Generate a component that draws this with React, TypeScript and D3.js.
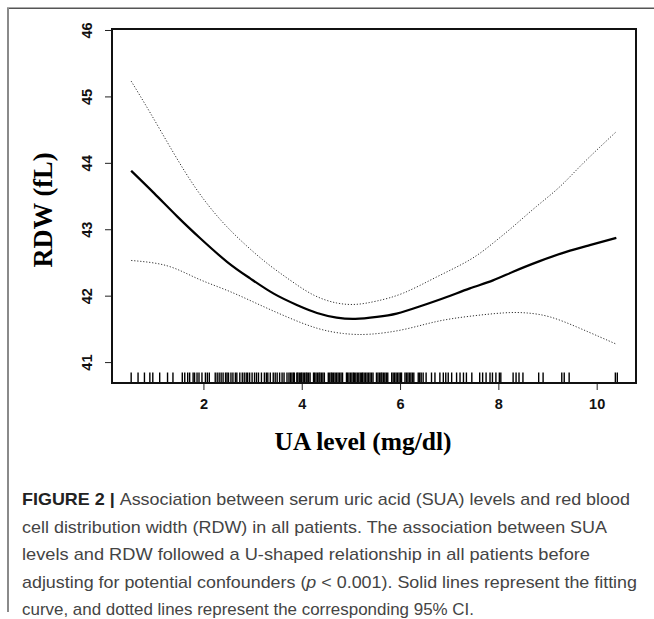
import { useEffect, useRef } from 'react';
import * as d3 from 'd3';

// Axis ticks
const xTicks = [2, 4, 6, 8, 10];
const yTicks = [41, 42, 43, 44, 45, 46];

// Fitted curve (solid)
const fitX = [0.53, 1.0, 1.47, 1.94, 2.48, 2.95, 3.43, 3.9, 4.31, 4.71, 5.09, 5.53, 5.93, 6.41, 6.95, 7.42, 7.89, 8.3, 8.84, 9.38, 9.86, 10.4];
const fitY = [43.88, 43.54, 43.19, 42.86, 42.51, 42.26, 42.03, 41.86, 41.74, 41.67, 41.65, 41.68, 41.73, 41.84, 41.98, 42.11, 42.23, 42.36, 42.52, 42.66, 42.76, 42.87];

// 95% CI upper (dotted)
const upperX = [0.53, 0.92, 1.4, 1.87, 2.35, 2.82, 3.29, 3.77, 4.24, 4.71, 5.12, 5.53, 6.07, 6.74, 7.42, 7.89, 8.3, 8.77, 9.25, 9.72, 10.4];
const upperY = [45.23, 44.75, 44.14, 43.59, 43.14, 42.79, 42.49, 42.23, 42.01, 41.89, 41.87, 41.92, 42.04, 42.28, 42.54, 42.79, 43.04, 43.34, 43.64, 43.99, 44.47];

// 95% CI lower (dotted)
const lowerX = [0.53, 1.26, 1.87, 2.48, 3.09, 3.7, 4.31, 4.85, 5.39, 6.07, 6.74, 7.42, 8.1, 8.57, 9.05, 9.59, 10.06, 10.4];
const lowerY = [42.53, 42.45, 42.26, 42.08, 41.88, 41.68, 41.51, 41.43, 41.42, 41.49, 41.61, 41.69, 41.74, 41.74, 41.68, 41.53, 41.38, 41.27];

// Observed UA values (rug)
const rugX = [
    0.53, 0.67, 0.8, 0.91, 0.97, 1.11, 1.27, 1.38, 1.57, 1.62, 1.68, 1.72, 1.79, 1.82, 1.87, 1.91, 1.97,
    2.04, 2.08, 2.12, 2.24, 2.28, 2.32, 2.36, 2.4, 2.45, 2.48, 2.51, 2.56, 2.6, 2.65, 2.68, 2.74, 2.79,
    2.83, 2.87, 2.9, 2.94, 2.99, 3.04, 3.08, 3.12, 3.18, 3.24, 3.28, 3.31, 3.36, 3.42, 3.46, 3.5, 3.55,
    3.6, 3.64, 3.7, 3.74, 3.77, 3.8, 3.83, 3.85, 3.9, 3.92, 3.95, 3.98, 4.0, 4.03, 4.06, 4.09, 4.11,
    4.14, 4.17, 4.24, 4.26, 4.29, 4.32, 4.35, 4.37, 4.4, 4.43, 4.46, 4.54, 4.57, 4.6, 4.62, 4.65, 4.68,
    4.71, 4.74, 4.77, 4.8, 4.83, 4.91, 4.93, 4.96, 4.99, 5.02, 5.05, 5.07, 5.1, 5.13, 5.16, 5.19, 5.22,
    5.24, 5.27, 5.3, 5.33, 5.36, 5.39, 5.42, 5.45, 5.52, 5.55, 5.58, 5.61, 5.63, 5.66, 5.69, 5.72, 5.75,
    5.83, 5.86, 5.89, 5.92, 5.95, 5.98, 6.01, 6.03, 6.1, 6.13, 6.16, 6.19, 6.22, 6.25, 6.28, 6.37, 6.4,
    6.43, 6.47, 6.53, 6.64, 6.71, 6.81, 6.88, 6.93, 6.98, 7.05, 7.15, 7.22, 7.29, 7.35, 7.46, 7.62, 7.68,
    7.75, 7.83, 7.88, 7.95, 8.02, 8.05, 8.3, 8.36, 8.42, 8.5, 8.82, 8.91, 9.29, 9.34, 9.44, 10.38, 10.42,
];

// Caption lines and the right edge each line reaches
const captionEnds = [630, 607, 590, 637, 474];

export default function App() {
    const svgRef = useRef<SVGSVGElement>(null);

    useEffect(() => {
        const svg = d3.select(svgRef.current);
        svg.selectAll('*').remove();

        const plot = { left: 112, right: 636, top: 29, bottom: 383 };

        const x = d3.scaleLinear().domain([0.14, 10.8]).range([plot.left, plot.right]);
        const y = d3.scaleLinear().domain([40.685, 46.015]).range([plot.bottom, plot.top]);

        // Outer figure frame (journal panel)
        svg.append('line')
            .attr('x1', 7).attr('x2', 654).attr('y1', 8.25).attr('y2', 8.25)
            .attr('stroke', '#555').attr('stroke-width', 1.5);
        svg.append('line')
            .attr('x1', 8).attr('x2', 8).attr('y1', 8).attr('y2', 612)
            .attr('stroke', '#8a8a8a').attr('stroke-width', 2);

        // Rug
        svg.append('g')
            .selectAll('line')
            .data(rugX)
            .enter()
            .append('line')
            .attr('x1', (d) => x(d))
            .attr('x2', (d) => x(d))
            .attr('y1', plot.bottom - 10.5)
            .attr('y2', plot.bottom)
            .attr('stroke', '#000')
            .attr('stroke-width', 1.4);

        // Curves
        const line = d3
            .line<[number, number]>()
            .x((d) => x(d[0]))
            .y((d) => y(d[1]))
            .curve(d3.curveNatural);

        const zip = (xs: number[], ys: number[]) => xs.map((v, i) => [v, ys[i]] as [number, number]);

        svg.append('path')
            .attr('d', line(zip(upperX, upperY)))
            .attr('fill', 'none')
            .attr('stroke', '#333')
            .attr('stroke-width', 1)
            .attr('stroke-dasharray', '1.2,1.8');

        svg.append('path')
            .attr('d', line(zip(lowerX, lowerY)))
            .attr('fill', 'none')
            .attr('stroke', '#333')
            .attr('stroke-width', 1)
            .attr('stroke-dasharray', '1.2,1.8');

        svg.append('path')
            .attr('d', line(zip(fitX, fitY)))
            .attr('fill', 'none')
            .attr('stroke', '#000')
            .attr('stroke-width', 2.2);

        // Y axis
        const yAxis = svg.append('g')
            .attr('transform', `translate(${plot.left},0)`)
            .call(d3.axisLeft(y).tickValues(yTicks).tickSize(7).tickFormat(d3.format('d')));
        yAxis.select('.domain').remove();
        yAxis.selectAll('.tick line').attr('stroke', '#222').attr('stroke-width', 1);
        yAxis.selectAll('.tick text')
            .attr('transform', 'rotate(-90)')
            .attr('x', 0)
            .attr('y', -20)
            .attr('dy', 0)
            .attr('text-anchor', 'middle')
            .attr('fill', '#111')
            .style('font-family', 'Liberation Sans, Arial, sans-serif')
            .style('font-weight', 'bold')
            .style('font-size', '14.5px');

        // X axis
        const xAxis = svg.append('g')
            .attr('transform', `translate(0,${plot.bottom})`)
            .call(d3.axisBottom(x).tickValues(xTicks).tickSize(7).tickFormat(d3.format('d')));
        xAxis.select('.domain').remove();
        xAxis.selectAll('.tick line').attr('stroke', '#222').attr('stroke-width', 1);
        xAxis.selectAll('.tick text')
            .attr('y', 16)
            .attr('dy', '0.71em')
            .attr('fill', '#111')
            .style('font-family', 'Liberation Sans, Arial, sans-serif')
            .style('font-weight', 'bold')
            .style('font-size', '14.5px');

        // Plot box
        svg.append('rect')
            .attr('x', plot.left)
            .attr('y', plot.top)
            .attr('width', plot.right - plot.left)
            .attr('height', plot.bottom - plot.top)
            .attr('fill', 'none')
            .attr('stroke', '#111')
            .attr('stroke-width', 2);

        // Axis titles
        svg.append('text')
            .attr('x', 363)
            .attr('y', 450)
            .attr('text-anchor', 'middle')
            .style('font-family', 'Liberation Serif, Times New Roman, serif')
            .style('font-weight', 'bold')
            .style('font-size', '25.5px')
            .text('UA level (mg/dl)');

        svg.append('text')
            .attr('transform', 'translate(52,210) rotate(-90)')
            .attr('text-anchor', 'middle')
            .style('font-family', 'Liberation Serif, Times New Roman, serif')
            .style('font-weight', 'bold')
            .style('font-size', '26.5px')
            .text('RDW (fL)');

        // Caption
        const caption = svg.append('g')
            .style('font-family', 'Liberation Sans, Arial, sans-serif')
            .style('font-size', '17px')
            .attr('fill', '#444');

        const rows = [0, 1, 2, 3, 4].map((i) =>
            caption.append('text')
                .attr('x', 22)
                .attr('y', 505 + i * 27.5)
                .attr('textLength', captionEnds[i] - 22)
                .attr('lengthAdjust', 'spacingAndGlyphs')
        );

        rows[0].append('tspan').attr('fill', '#222').style('font-weight', 'bold').text('FIGURE 2 | ');
        rows[0].append('tspan').text('Association between serum uric acid (SUA) levels and red blood');
        rows[1].text('cell distribution width (RDW) in all patients. The association between SUA');
        rows[2].text('levels and RDW followed a U-shaped relationship in all patients before');
        rows[3].append('tspan').text('adjusting for potential confounders (');
        rows[3].append('tspan').style('font-style', 'italic').text('p');
        rows[3].append('tspan').text(' < 0.001). Solid lines represent the fitting');
        rows[4].text('curve, and dotted lines represent the corresponding 95% CI.');
    }, []);

    return (
        <svg
            ref={svgRef}
            width={654}
            height={619}
            style={{ position: 'absolute', left: 0, top: 0, background: '#fff' }}
        ></svg>
    );
}
